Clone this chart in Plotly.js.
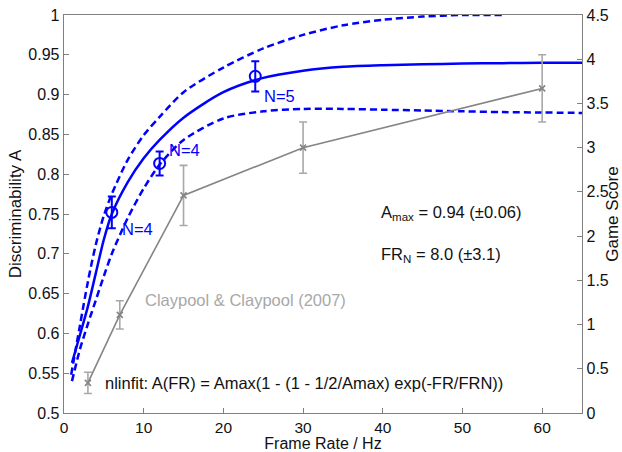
<!DOCTYPE html>
<html>
<head>
<meta charset="utf-8">
<script src="https://cdn.plot.ly/plotly-3.0.1.min.js"></script>
<style>html,body{margin:0;padding:0;background:#fff;}#chart{width:622px;height:452px;}</style>
</head>
<body>
<div id="chart"></div>
<script>
// Fit curve
const fitFR = [1,2,3,4,5,6,8,10,12,15,20,25,30,35,40,45,50,55,60,65];
const fitA = [0.563,0.598,0.634,0.676,0.718,0.750,0.790,0.820,0.843,0.871,0.903,0.921,0.930,0.935,0.937,0.938,0.939,0.9395,0.940,0.940];
// Upper confidence bound
const upFR = [0.9,2,3,4,5,6,8,10,12,15,20,25,30,35,40,45,50,55];
const upA = [0.548,0.610,0.665,0.712,0.748,0.775,0.818,0.849,0.872,0.903,0.934,0.958,0.975,0.987,0.994,0.998,1.0,1.0];
// Lower confidence bound
const loFR = [1,2,3,4,5,6,8,10,12,15,20,25,30,35,40,45,50,55,60,65];
const loA = [0.540,0.580,0.612,0.642,0.672,0.700,0.745,0.782,0.812,0.843,0.870,0.879,0.882,0.882,0.881,0.880,0.879,0.878,0.8775,0.877];
// Measured discriminability
const measFR = [6,12,24];
const measA = [0.752,0.8135,0.923];
const measErr = [0.020,0.015,0.019];
const measLabels = ['N=4','N=4','N=5'];
// Claypool & Claypool (2007) game score
const gameFR = [3,7,15,30,60];
const gameScore = [0.34,1.11,2.46,3.00,3.67];
const gameErr = [0.12,0.16,0.34,0.29,0.38];

const blue = '#0000ff';
const font = 'Liberation Sans, Arial, sans-serif';

const traces = [
  {x: gameFR, y: gameScore, yaxis: 'y2', type: 'scatter', mode: 'lines+markers',
   line: {color: '#858585', width: 1.6},
   marker: {symbol: 'x-thin-open', size: 6, color: '#858585', line: {color: '#858585', width: 1.6}},
   error_y: {type: 'data', array: gameErr, visible: true, color: '#a8a8a8', thickness: 1.6, width: 4},
   showlegend: false, hoverinfo: 'skip'},
  {x: upFR, y: upA, type: 'scatter', mode: 'lines', line: {color: blue, width: 2.5, dash: '7px,4px', shape: 'spline', smoothing: 0.8}, showlegend: false},
  {x: loFR, y: loA, type: 'scatter', mode: 'lines', line: {color: blue, width: 2.5, dash: '7px,4px', shape: 'spline', smoothing: 0.8}, showlegend: false},
  {x: fitFR, y: fitA, type: 'scatter', mode: 'lines', line: {color: blue, width: 2.5, shape: 'spline', smoothing: 0.8}, showlegend: false},
  {x: measFR, y: measA, type: 'scatter', mode: 'markers',
   marker: {symbol: 'circle-open', size: 11, color: blue, line: {color: blue, width: 2}},
   error_y: {type: 'data', array: measErr, visible: true, color: blue, thickness: 2, width: 4},
   showlegend: false}
];

const annFont = 16.5;
const labelPos = [[7.0,0.731],[12.9,0.830],[24.9,0.898]];
const annotations = measLabels.map((t,i) => ({
  x: labelPos[i][0], y: labelPos[i][1], xref: 'x', yref: 'y', text: t, showarrow: false,
  xanchor: 'left', yanchor: 'middle', font: {family: font, size: annFont, color: blue}
}));
annotations.push(
  {x: 9.9, y: 0.642, xref: 'x', yref: 'y', text: 'Claypool &amp; Claypool (2007)', showarrow: false,
   xanchor: 'left', yanchor: 'middle', font: {family: font, size: annFont, color: '#a8a8a8'}},
  {x: 39.5, y: 0.751, xref: 'x', yref: 'y', text: 'A<sub>max</sub> = 0.94 (±0.06)', showarrow: false,
   xanchor: 'left', yanchor: 'middle', font: {family: font, size: annFont, color: '#111'}},
  {x: 39.5, y: 0.698, xref: 'x', yref: 'y', text: 'FR<sub>N</sub> = 8.0 (±3.1)', showarrow: false,
   xanchor: 'left', yanchor: 'middle', font: {family: font, size: annFont, color: '#111'}},
  {x: 4.9, y: 0.538, xref: 'x', yref: 'y', text: 'nlinfit: A(FR) = Amax(1 - (1 - 1/2/Amax) exp(-FR/FRN))', showarrow: false,
   xanchor: 'left', yanchor: 'middle', font: {family: font, size: annFont, color: '#111'}}
);

const axisCommon = {
  showgrid: false, zeroline: false, showline: true, linecolor: '#808080', linewidth: 1.3,
  ticks: 'inside', ticklen: 5, tickcolor: '#808080', tickwidth: 1,
  tickfont: {family: font, size: 16, color: '#111'}
};

const layout = {
  width: 622, height: 452,
  margin: {l: 64, r: 40, t: 15, b: 39, pad: 0},
  paper_bgcolor: '#fff', plot_bgcolor: '#fff',
  showlegend: false,
  xaxis: Object.assign({}, axisCommon, {
    range: [0, 65], tickvals: [0,10,20,30,40,50,60], mirror: true,
    tickfont: {family: font, size: 15.5, color: '#111'},
    title: {text: 'Frame Rate / Hz', font: {family: font, size: 16, color: '#111'}, standoff: 3}
  }),
  yaxis: Object.assign({}, axisCommon, {
    range: [0.5, 1], tickvals: [0.5,0.55,0.6,0.65,0.7,0.75,0.8,0.85,0.9,0.95,1],
    ticktext: ['0.5','0.55','0.6','0.65','0.7','0.75','0.8','0.85','0.9','0.95','1'],
    title: {text: 'Discriminability A', font: {family: font, size: 17, color: '#111'}, standoff: 2}
  }),
  yaxis2: Object.assign({}, axisCommon, {
    range: [0, 4.5], overlaying: 'y', side: 'right', anchor: 'x',
    tickvals: [0,0.5,1,1.5,2,2.5,3,3.5,4,4.5],
    ticktext: ['0','0.5','1','1.5','2','2.5','3','3.5','4','4.5'],
    title: {text: 'Game Score', font: {family: font, size: 17, color: '#111'}, standoff: 0}
  }),
  annotations: annotations
};

Plotly.newPlot('chart', traces, layout, {displayModeBar: false, staticPlot: true});
</script>
</body>
</html>
